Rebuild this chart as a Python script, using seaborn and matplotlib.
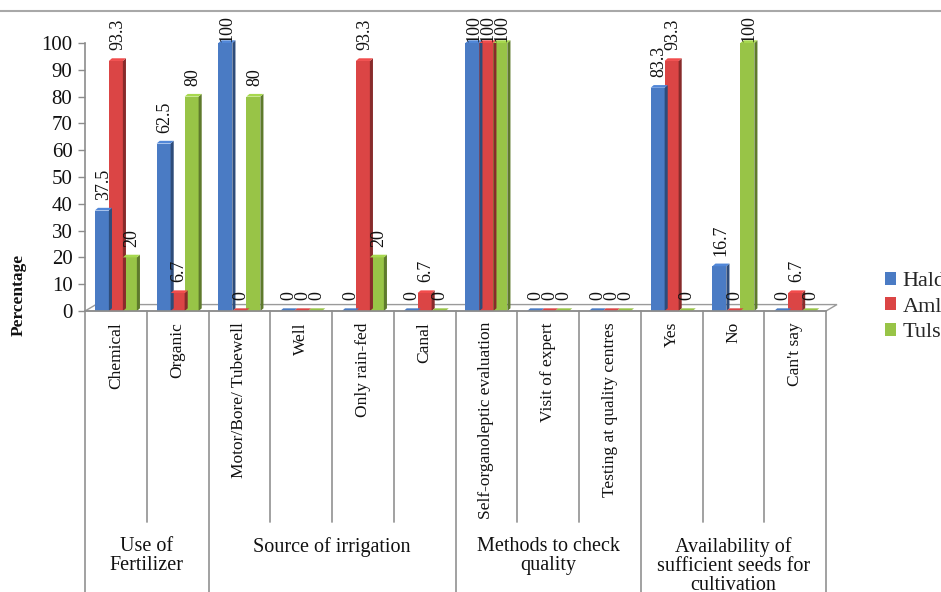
import numpy as np
import pandas as pd
import matplotlib
matplotlib.use("Agg")
import matplotlib.pyplot as plt
import seaborn as sns
from matplotlib.patches import Polygon
from matplotlib.lines import Line2D
from matplotlib.colors import to_rgb

# ---------------- data ----------------
categories = ["Chemical", "Organic", "Motor/Bore/ Tubewell", "Well", "Only rain-fed", "Canal",
              "Self-organoleptic evaluation", "Visit of expert", "Testing at quality centres",
              "Yes", "No", "Can't say"]
groups = ["Use of\nFertilizer", "Source of irrigation", "Methods to check\nquality",
          "Availability of\nsufficient seeds for\ncultivation"]
group_sizes = [2, 4, 3, 3]
series_names = ["Haldi", "Amla", "Tulsi"]
haldi = [37.5, 62.5, 100, 0, 0, 0, 100, 0, 0, 83.3, 16.7, 0]
amla = [93.3, 6.7, 0, 0, 93.3, 6.7, 100, 0, 0, 93.3, 0, 6.7]
tulsi = [20, 80, 80, 0, 20, 0, 100, 0, 0, 0, 100, 0]
yticks = list(range(0, 101, 10))
colors = ["#4A7BC4", "#DB4545", "#98C447"]

df = pd.DataFrame({
    "Category": categories * 3,
    "Series": [s for s in series_names for _ in categories],
    "Value": haldi + amla + tulsi,
})

sns.set_theme(style="white")
plt.rcParams["font.family"] = ["Liberation Serif", "DejaVu Serif"]

W, H = 941, 592
fig = plt.figure(figsize=(W / 100, H / 100), dpi=100)
ax = fig.add_axes([85 / W, (H - 311) / H, 741 / W, 268 / H])

sns.barplot(data=df, x="Category", y="Value", hue="Series", order=categories,
            hue_order=series_names, palette=colors, saturation=1, width=0.68,
            linewidth=0, edgecolor="none", errorbar=None, ax=ax)

ax.set_xlim(-0.5, 11.5)
ax.set_ylim(0, 100)

# 3-D look: side and top faces derived from the drawn bars
dx, dy = 0.05, 1.0
bars = [p for p in ax.patches if p.get_width() > 0]
value_labels = []
for p in bars:
    x, w, h = p.get_x(), p.get_width(), p.get_height()
    c = np.array(to_rgb(p.get_facecolor()))
    side = Polygon([(x + w, 0), (x + w + dx, dy), (x + w + dx, h + dy), (x + w, h)],
                   closed=True, facecolor=c * 0.62, edgecolor="none", zorder=2, clip_on=False)
    top = Polygon([(x, h), (x + dx, h + dy), (x + w + dx, h + dy), (x + w, h)],
                  closed=True, facecolor=np.clip(c * 1.1, 0, 1) if h > 0 else c,
                  edgecolor="none", zorder=2, clip_on=False)
    ax.add_patch(side)
    ax.add_patch(top)
    p.set_zorder(2)
    p.set_clip_on(False)
    txt = ("%d" % h) if float(h).is_integer() else ("%.1f" % h)
    t = ax.text(x + w / 2 + dx / 2, h + 4.0, txt, rotation=90, ha="center", va="bottom",
                fontsize=13, color="#111111", clip_on=False, zorder=3)
    value_labels.append(t)

# floor
fdx, fdy = 0.178, 2.4
floor = Polygon([(-0.5, 0), (-0.5 + fdx, fdy), (11.5 + fdx, fdy), (11.5, 0)], closed=True,
                facecolor="white", edgecolor="#9a9a9a", linewidth=1.0, zorder=0.5, clip_on=False)
ax.add_patch(floor)

# axes styling
for s in ["top", "right"]:
    ax.spines[s].set_visible(False)
for s in ["left", "bottom"]:
    ax.spines[s].set_color("#8c8c8c")
    ax.spines[s].set_linewidth(1.2)
ax.set_yticks(yticks)
ax.set_yticklabels([str(v) for v in yticks])
ax.tick_params(axis="y", labelsize=15, length=5, color="#8c8c8c", width=1.0, pad=4,
               left=True, labelcolor="#111111")
ax.set_xticks(range(len(categories)))
ax.set_xticklabels(categories, rotation=90, va="top", ha="center", fontsize=12.5, color="#111111")
ax.tick_params(axis="x", length=0, pad=8)
ax.set_xlabel("")
ax.set_ylabel("")

# separators below the axis
tr = ax.get_xaxis_transform()
group_edges = set(np.cumsum([0] + group_sizes))
for i in range(len(categories) + 1):
    y_end = -1.06 if i in group_edges else -0.787
    ax.plot([i - 0.5, i - 0.5], [0, y_end], transform=tr, color="#9a9a9a", lw=1.3,
            clip_on=False, zorder=1)

# group labels
start = 0
for g, n in zip(groups, group_sizes):
    cx = start + (n - 1) / 2
    ax.text(cx, -0.845, g, transform=tr, ha="center", va="top", fontsize=14.5,
            linespacing=1.0, color="#111111")
    start += n

# y label
fig.text(19 / W, (H - 295) / H, "Percentage", rotation=90, ha="center", va="center",
         fontsize=12.5, fontweight="bold", color="#111111")

# top rule
fig.add_artist(Line2D([0, 1], [(H - 11) / H] * 2, transform=fig.transFigure,
                      color="#a8a8a8", lw=1.5))

# legend (cut by the right edge, as in the original)
leg = ax.get_legend()
handles = leg.legend_handles
labels = [t.get_text() for t in leg.get_texts()]
leg.remove()
ax.legend(handles, labels, loc="center left", bbox_to_anchor=(885 / W, (H - 307) / H),
          bbox_transform=fig.transFigure, frameon=False, fontsize=16, handlelength=0.5,
          handleheight=0.5, handletextpad=0.3, labelspacing=0.28, borderpad=0, borderaxespad=0)

# keep value labels inside the chart area (as in the original)
fig.canvas.draw()
r = fig.canvas.get_renderer()
top_limit = fig.transFigure.transform((0, (H - 15) / H))[1]
inv = ax.transData.inverted()
for t in value_labels:
    bb = t.get_window_extent(r)
    if bb.y1 > top_limit:
        x, y = t.get_position()
        yd = ax.transData.transform((x, y))[1] - (bb.y1 - top_limit)
        t.set_position((x, inv.transform((0, yd))[1]))

fig.savefig("out.png", dpi=100)
